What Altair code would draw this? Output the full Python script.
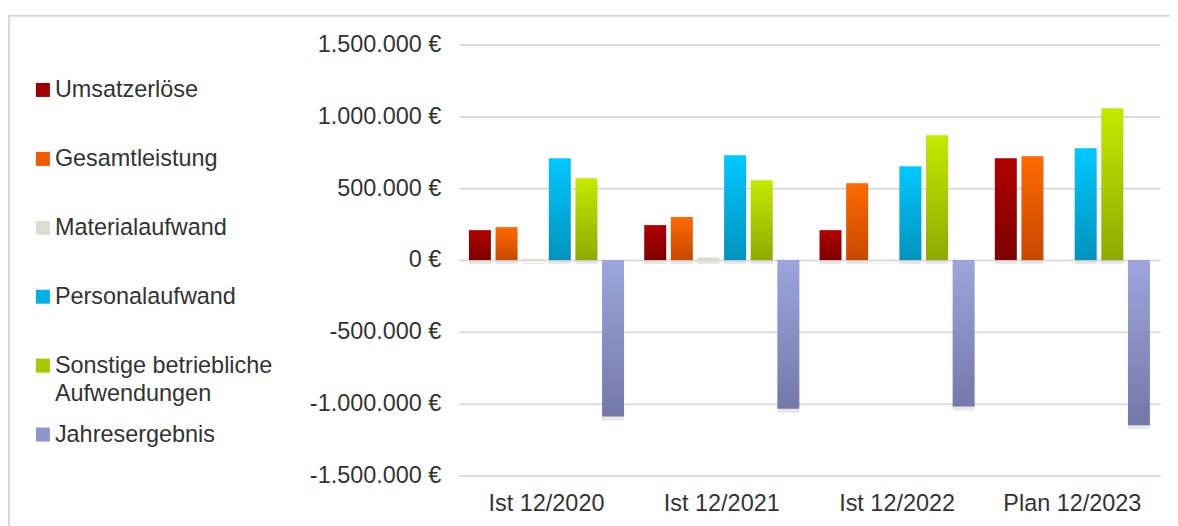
import altair as alt
import pandas as pd

years = ["Ist 12/2020", "Ist 12/2021", "Ist 12/2022", "Plan 12/2023"]
series = ["Umsatzerlöse", "Gesamtleistung", "Materialaufwand",
          "Personalaufwand", "Sonstige betriebliche Aufwendungen", "Jahresergebnis"]

umsatz = [208000, 243000, 208000, 708000]
gesamt = [229000, 299000, 535000, 722000]
material = [8000, 20000, 4000, 1000]
personal = [708000, 729000, 653000, 778000]
sonstige = [569000, 556000, 868000, 1056000]
jahres = [-1090000, -1035000, -1019000, -1150000]

legend_line1 = ["Umsatzerlöse", "Gesamtleistung", "Materialaufwand",
                "Personalaufwand", "Sonstige betriebliche", "Jahresergebnis"]
legend_line2 = ["", "", "", "", "Aufwendungen", ""]

y_ticks = [-1500000, -1000000, -500000, 0, 500000, 1000000, 1500000]

grad_top = ["#B00000", "#FF6A00", "#EEEEE6", "#00C8FF", "#C4EA00", "#9CA6DD"]
grad_bot = ["#7E0000", "#C84800", "#CFCFC8", "#0093BE", "#8EAA00", "#7378A9"]
legend_colors = ["#A00000", "#EE5A00", "#DCDCD4", "#00B0E6", "#A8C800", "#8C96CC"]

rows = []
for s, vals in zip(series, [umsatz, gesamt, material, personal, sonstige, jahres]):
    for yr, v in zip(years, vals):
        rows.append({"Jahr": yr, "Serie": s, "Wert": v})
df = pd.DataFrame(rows)

leg_df = pd.DataFrame({"Serie": series, "l1": legend_line1, "l2": legend_line2})

FONT = "Liberation Sans"
TXT = "#333333"
FS = 23.5

x_enc = alt.X("Jahr:N", sort=years, title=None,
              scale=alt.Scale(domain=years, paddingInner=0, paddingOuter=0),
              axis=alt.Axis(labelAngle=0, domain=False, ticks=False, labelPadding=16,
                            labelFontSize=FS, labelColor=TXT, labelFont=FONT))
xoff_enc = alt.XOffset("Serie:N", sort=series,
                       scale=alt.Scale(domain=series, paddingInner=0.176, paddingOuter=0.38))
y_enc = alt.Y("Wert:Q", title=None,
              scale=alt.Scale(domain=[-1500000, 1500000], nice=False, zero=True),
              axis=alt.Axis(values=y_ticks, format="$,.0f", domain=False, ticks=False,
                            labelPadding=18, labelFontSize=FS, labelColor=TXT, labelFont=FONT,
                            grid=True, gridColor="#DCDCDC", gridWidth=2))

base = alt.Chart(df)

shadow = base.mark_bar(color="#8C8C8C", opacity=0.2, yOffset=4, xOffset=1).encode(
    x=x_enc, xOffset=xoff_enc, y=y_enc)

layers = [shadow]
for s, t, b in zip(series, grad_top, grad_bot):
    grad = alt.Gradient(gradient="linear",
                        stops=[alt.GradientStop(color=t, offset=0),
                               alt.GradientStop(color=b, offset=1)],
                        x1=0, x2=0, y1=0, y2=1)
    layers.append(base.transform_filter(alt.datum.Serie == s).mark_bar(color=grad).encode(
        x=x_enc, xOffset=xoff_enc, y=y_enc))

bars = alt.layer(*layers)

leg_y = alt.Y("Serie:N", sort=series,
              scale=alt.Scale(domain=series, type="point", padding=0.626, align=0.526), axis=None)
leg_base = alt.Chart(leg_df)
leg_sq = leg_base.mark_square(size=196, opacity=1).encode(
    x=alt.value(-417), y=leg_y,
    color=alt.Color("Serie:N", scale=alt.Scale(domain=series, range=legend_colors), legend=None))
leg_t1 = leg_base.mark_text(align="left", baseline="middle", font=FONT, fontSize=FS, color=TXT).encode(
    x=alt.value(-405), y=leg_y, text="l1:N")
leg_t2 = leg_base.mark_text(align="left", baseline="middle", font=FONT, fontSize=FS, color=TXT, dy=28).encode(
    x=alt.value(-405), y=leg_y, text="l2:N")
legend = alt.layer(leg_sq, leg_t1, leg_t2)

frame = alt.Chart(alt.Data(values=[{}])).mark_rect(
    fillOpacity=0, stroke="#D9D9D9", strokeWidth=2).encode(
    x=alt.value(-451), x2=alt.value(740), y=alt.value(-29), y2=alt.value(500))

chart = alt.layer(frame, bars, legend).resolve_scale(
    y="independent", color="independent"
).properties(
    width=703, height=432,
    padding={"left": 452, "top": 36, "right": 10, "bottom": 50},
    autosize=alt.AutoSizeParams(type="none"),
).configure(
    locale={"number": {"decimal": ",", "thousands": ".", "grouping": [3],
                       "currency": ["", " €"], "minus": "-"}}
).configure_view(stroke="transparent")

chart.save("out.html", embed_options={"renderer": "svg", "actions": False})
